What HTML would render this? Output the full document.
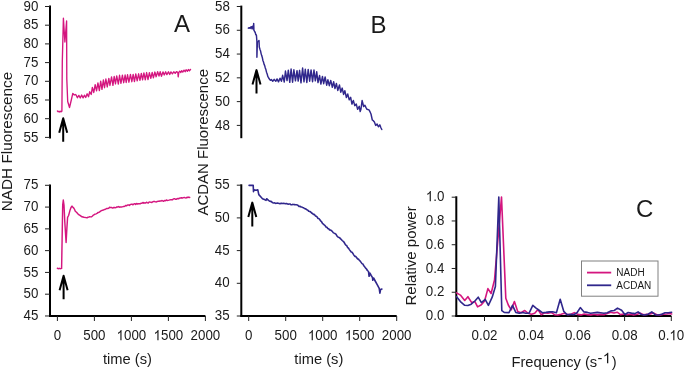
<!DOCTYPE html>
<html><head><meta charset="utf-8"><title>Figure</title>
<style>
html,body{margin:0;padding:0;background:#fff;}
body{width:685px;height:371px;overflow:hidden;}
svg{display:block;will-change:transform;}
text{font-family:"Liberation Sans",sans-serif;fill:#1a1a1a;}
</style></head>
<body>
<svg width="685" height="371" viewBox="0 0 685 371">
<rect x="0" y="0" width="685" height="371" fill="#fff"/>
<line x1="50" y1="5.6" x2="50" y2="138.4" stroke="#000" stroke-width="2"/>
<line x1="45" y1="6.5" x2="50" y2="6.5" stroke="#222" stroke-width="1"/>
<text transform="translate(23.47 10.6) scale(1 1.07)" font-size="13.33">90</text>
<line x1="45" y1="25.2" x2="50" y2="25.2" stroke="#222" stroke-width="1"/>
<text transform="translate(23.47 29.3) scale(1 1.07)" font-size="13.33">85</text>
<line x1="45" y1="43.9" x2="50" y2="43.9" stroke="#222" stroke-width="1"/>
<text transform="translate(23.47 48) scale(1 1.07)" font-size="13.33">80</text>
<line x1="45" y1="62.6" x2="50" y2="62.6" stroke="#222" stroke-width="1"/>
<text transform="translate(23.47 66.7) scale(1 1.07)" font-size="13.33">75</text>
<line x1="45" y1="81.3" x2="50" y2="81.3" stroke="#222" stroke-width="1"/>
<text transform="translate(23.47 85.4) scale(1 1.07)" font-size="13.33">70</text>
<line x1="45" y1="100" x2="50" y2="100" stroke="#222" stroke-width="1"/>
<text transform="translate(23.47 104.1) scale(1 1.07)" font-size="13.33">65</text>
<line x1="45" y1="118.7" x2="50" y2="118.7" stroke="#222" stroke-width="1"/>
<text transform="translate(23.47 122.8) scale(1 1.07)" font-size="13.33">60</text>
<line x1="45" y1="137.4" x2="50" y2="137.4" stroke="#222" stroke-width="1"/>
<text transform="translate(23.47 141.5) scale(1 1.07)" font-size="13.33">55</text>
<line x1="50" y1="184.4" x2="50" y2="316.5" stroke="#000" stroke-width="2"/>
<line x1="45" y1="185.3" x2="50" y2="185.3" stroke="#222" stroke-width="1"/>
<text transform="translate(23.47 189.4) scale(1 1.07)" font-size="13.33">75</text>
<line x1="45" y1="207.08" x2="50" y2="207.08" stroke="#222" stroke-width="1"/>
<text transform="translate(23.47 211.18) scale(1 1.07)" font-size="13.33">70</text>
<line x1="45" y1="228.86" x2="50" y2="228.86" stroke="#222" stroke-width="1"/>
<text transform="translate(23.47 232.96) scale(1 1.07)" font-size="13.33">65</text>
<line x1="45" y1="250.64" x2="50" y2="250.64" stroke="#222" stroke-width="1"/>
<text transform="translate(23.47 254.74) scale(1 1.07)" font-size="13.33">60</text>
<line x1="45" y1="272.42" x2="50" y2="272.42" stroke="#222" stroke-width="1"/>
<text transform="translate(23.47 276.52) scale(1 1.07)" font-size="13.33">55</text>
<line x1="45" y1="294.2" x2="50" y2="294.2" stroke="#222" stroke-width="1"/>
<text transform="translate(23.47 298.3) scale(1 1.07)" font-size="13.33">50</text>
<line x1="45" y1="315.98" x2="50" y2="315.98" stroke="#222" stroke-width="1"/>
<text transform="translate(23.47 320.08) scale(1 1.07)" font-size="13.33">45</text>
<line x1="49" y1="316" x2="205.4" y2="316" stroke="#000" stroke-width="2"/>
<line x1="57.4" y1="316" x2="57.4" y2="321" stroke="#222" stroke-width="1"/>
<text transform="translate(53.69 340.3) scale(1 1.07)" font-size="13.33">0</text>
<line x1="94.4" y1="316" x2="94.4" y2="321" stroke="#222" stroke-width="1"/>
<text transform="translate(83.28 340.3) scale(1 1.07)" font-size="13.33">500</text>
<line x1="131.4" y1="316" x2="131.4" y2="321" stroke="#222" stroke-width="1"/>
<text transform="translate(116.57 340.3) scale(1 1.07)" font-size="13.33"> 000</text>
<path fill="#1a1a1a" transform="translate(116.57 340.3) scale(0.01333 -0.01426)" d="M372.6 0L284.7 0L284.7 560Q252.9 529.8 201.2 499.5Q149.4 469.2 107.9 454.1L107.9 539.1Q181.6 573.7 236.8 623Q292 672.4 314.9 718.8L372.6 718.8Z"/>
<line x1="168.4" y1="316" x2="168.4" y2="321" stroke="#222" stroke-width="1"/>
<text transform="translate(153.57 340.3) scale(1 1.07)" font-size="13.33"> 500</text>
<path fill="#1a1a1a" transform="translate(153.57 340.3) scale(0.01333 -0.01426)" d="M372.6 0L284.7 0L284.7 560Q252.9 529.8 201.2 499.5Q149.4 469.2 107.9 454.1L107.9 539.1Q181.6 573.7 236.8 623Q292 672.4 314.9 718.8L372.6 718.8Z"/>
<line x1="205.4" y1="316" x2="205.4" y2="321" stroke="#222" stroke-width="1"/>
<text transform="translate(190.57 340.3) scale(1 1.07)" font-size="13.33">2000</text>
<line x1="241.3" y1="5.6" x2="241.3" y2="138.2" stroke="#000" stroke-width="2"/>
<line x1="236.8" y1="6.5" x2="241.3" y2="6.5" stroke="#222" stroke-width="1"/>
<text transform="translate(215.07 10.6) scale(1 1.07)" font-size="13.33">58</text>
<line x1="236.8" y1="30.28" x2="241.3" y2="30.28" stroke="#222" stroke-width="1"/>
<text transform="translate(215.07 34.38) scale(1 1.07)" font-size="13.33">56</text>
<line x1="236.8" y1="54.06" x2="241.3" y2="54.06" stroke="#222" stroke-width="1"/>
<text transform="translate(215.07 58.16) scale(1 1.07)" font-size="13.33">54</text>
<line x1="236.8" y1="77.84" x2="241.3" y2="77.84" stroke="#222" stroke-width="1"/>
<text transform="translate(215.07 81.94) scale(1 1.07)" font-size="13.33">52</text>
<line x1="236.8" y1="101.62" x2="241.3" y2="101.62" stroke="#222" stroke-width="1"/>
<text transform="translate(215.07 105.72) scale(1 1.07)" font-size="13.33">50</text>
<line x1="236.8" y1="125.4" x2="241.3" y2="125.4" stroke="#222" stroke-width="1"/>
<text transform="translate(215.07 129.5) scale(1 1.07)" font-size="13.33">48</text>
<line x1="241.3" y1="184.3" x2="241.3" y2="316.5" stroke="#000" stroke-width="2"/>
<line x1="236.8" y1="185.2" x2="241.3" y2="185.2" stroke="#222" stroke-width="1"/>
<text transform="translate(214.77 189.3) scale(1 1.07)" font-size="13.33">55</text>
<line x1="236.8" y1="217.9" x2="241.3" y2="217.9" stroke="#222" stroke-width="1"/>
<text transform="translate(214.77 222) scale(1 1.07)" font-size="13.33">50</text>
<line x1="236.8" y1="250.6" x2="241.3" y2="250.6" stroke="#222" stroke-width="1"/>
<text transform="translate(214.77 254.7) scale(1 1.07)" font-size="13.33">45</text>
<line x1="236.8" y1="283.3" x2="241.3" y2="283.3" stroke="#222" stroke-width="1"/>
<text transform="translate(214.77 287.4) scale(1 1.07)" font-size="13.33">40</text>
<line x1="236.8" y1="316" x2="241.3" y2="316" stroke="#222" stroke-width="1"/>
<text transform="translate(214.77 320.1) scale(1 1.07)" font-size="13.33">35</text>
<line x1="240.3" y1="316" x2="396.7" y2="316" stroke="#000" stroke-width="2"/>
<line x1="248.7" y1="316" x2="248.7" y2="321" stroke="#222" stroke-width="1"/>
<text transform="translate(244.99 340.3) scale(1 1.07)" font-size="13.33">0</text>
<line x1="285.7" y1="316" x2="285.7" y2="321" stroke="#222" stroke-width="1"/>
<text transform="translate(274.58 340.3) scale(1 1.07)" font-size="13.33">500</text>
<line x1="322.7" y1="316" x2="322.7" y2="321" stroke="#222" stroke-width="1"/>
<text transform="translate(307.87 340.3) scale(1 1.07)" font-size="13.33"> 000</text>
<path fill="#1a1a1a" transform="translate(307.87 340.3) scale(0.01333 -0.01426)" d="M372.6 0L284.7 0L284.7 560Q252.9 529.8 201.2 499.5Q149.4 469.2 107.9 454.1L107.9 539.1Q181.6 573.7 236.8 623Q292 672.4 314.9 718.8L372.6 718.8Z"/>
<line x1="359.7" y1="316" x2="359.7" y2="321" stroke="#222" stroke-width="1"/>
<text transform="translate(344.87 340.3) scale(1 1.07)" font-size="13.33"> 500</text>
<path fill="#1a1a1a" transform="translate(344.87 340.3) scale(0.01333 -0.01426)" d="M372.6 0L284.7 0L284.7 560Q252.9 529.8 201.2 499.5Q149.4 469.2 107.9 454.1L107.9 539.1Q181.6 573.7 236.8 623Q292 672.4 314.9 718.8L372.6 718.8Z"/>
<line x1="396.7" y1="316" x2="396.7" y2="321" stroke="#222" stroke-width="1"/>
<text transform="translate(381.87 340.3) scale(1 1.07)" font-size="13.33">2000</text>
<line x1="456.3" y1="196.3" x2="456.3" y2="316.5" stroke="#000" stroke-width="2"/>
<line x1="451.7" y1="197.2" x2="456.3" y2="197.2" stroke="#222" stroke-width="1"/>
<text transform="translate(425.87 201.3) scale(1 1.07)" font-size="13.33"> .0</text>
<path fill="#1a1a1a" transform="translate(425.87 201.3) scale(0.01333 -0.01426)" d="M372.6 0L284.7 0L284.7 560Q252.9 529.8 201.2 499.5Q149.4 469.2 107.9 454.1L107.9 539.1Q181.6 573.7 236.8 623Q292 672.4 314.9 718.8L372.6 718.8Z"/>
<line x1="451.7" y1="220.96" x2="456.3" y2="220.96" stroke="#222" stroke-width="1"/>
<text transform="translate(425.87 225.06) scale(1 1.07)" font-size="13.33">0.8</text>
<line x1="451.7" y1="244.72" x2="456.3" y2="244.72" stroke="#222" stroke-width="1"/>
<text transform="translate(425.87 248.82) scale(1 1.07)" font-size="13.33">0.6</text>
<line x1="451.7" y1="268.48" x2="456.3" y2="268.48" stroke="#222" stroke-width="1"/>
<text transform="translate(425.87 272.58) scale(1 1.07)" font-size="13.33">0.4</text>
<line x1="451.7" y1="292.24" x2="456.3" y2="292.24" stroke="#222" stroke-width="1"/>
<text transform="translate(425.87 296.34) scale(1 1.07)" font-size="13.33">0.2</text>
<line x1="451.7" y1="316" x2="456.3" y2="316" stroke="#222" stroke-width="1"/>
<text transform="translate(425.87 320.1) scale(1 1.07)" font-size="13.33">0.0</text>
<line x1="455.3" y1="316" x2="671.3" y2="316" stroke="#000" stroke-width="2"/>
<line x1="484.5" y1="316" x2="484.5" y2="321" stroke="#222" stroke-width="1"/>
<text transform="translate(471.53 340.3) scale(1 1.07)" font-size="13.33">0.02</text>
<line x1="531.2" y1="316" x2="531.2" y2="321" stroke="#222" stroke-width="1"/>
<text transform="translate(518.23 340.3) scale(1 1.07)" font-size="13.33">0.04</text>
<line x1="577.9" y1="316" x2="577.9" y2="321" stroke="#222" stroke-width="1"/>
<text transform="translate(564.93 340.3) scale(1 1.07)" font-size="13.33">0.06</text>
<line x1="624.6" y1="316" x2="624.6" y2="321" stroke="#222" stroke-width="1"/>
<text transform="translate(611.63 340.3) scale(1 1.07)" font-size="13.33">0.08</text>
<line x1="671.3" y1="316" x2="671.3" y2="321" stroke="#222" stroke-width="1"/>
<text transform="translate(658.33 340.3) scale(1 1.07)" font-size="13.33">0. 0</text>
<path fill="#1a1a1a" transform="translate(669.44 340.3) scale(0.01333 -0.01426)" d="M372.6 0L284.7 0L284.7 560Q252.9 529.8 201.2 499.5Q149.4 469.2 107.9 454.1L107.9 539.1Q181.6 573.7 236.8 623Q292 672.4 314.9 718.8L372.6 718.8Z"/>
<text x="127.5" y="364.1" text-anchor="middle" font-size="14.7">time (s)</text>
<text x="318.8" y="364.1" text-anchor="middle" font-size="14.7">time (s)</text>
<text x="511.49" y="367.1" font-size="14.7">Frequency (s</text>
<text x="597.55" y="363.2" font-size="14.7">-</text>
<path fill="#1a1a1a" transform="translate(602.81 363.2) scale(0.0147 -0.0147)" d="M372.6 0L284.7 0L284.7 560Q252.9 529.8 201.2 499.5Q149.4 469.2 107.9 454.1L107.9 539.1Q181.6 573.7 236.8 623Q292 672.4 314.9 718.8L372.6 718.8Z"/>
<text x="611.71" y="367.1" font-size="14.7">)</text>
<text transform="translate(11.9 141.5) rotate(-90) scale(1 1.015)" text-anchor="middle" font-size="15.3">NADH Fluorescence</text>
<text transform="translate(208 142.3) rotate(-90) scale(1 1.002)" text-anchor="middle" font-size="15">ACDAN Fluorescence</text>
<text transform="translate(415.8 255.9) rotate(-90) scale(1 1.02)" text-anchor="middle" font-size="15">Relative power</text>
<text x="173.9" y="31.8" font-size="24">A</text>
<text x="370.6" y="33.2" font-size="24">B</text>
<text x="636" y="217" font-size="24">C</text>
<rect x="581.5" y="261" width="76.5" height="35.2" fill="#fff" stroke="#808080" stroke-width="1"/>
<line x1="587" y1="272.6" x2="611.2" y2="272.6" stroke="#d4167f" stroke-width="1.8"/>
<line x1="587" y1="285.3" x2="611.2" y2="285.3" stroke="#30278c" stroke-width="1.8"/>
<text x="616.3" y="276.2" font-size="10">NADH</text>
<text x="616.3" y="288.7" font-size="10">ACDAN</text>
<path d="M63.2 141.7 L63.2 119.3 M59.2 132.7 L63.2 118.3 L67.2 132.7" fill="none" stroke="#000" stroke-width="2" stroke-linecap="butt" stroke-linejoin="round"/>
<path d="M63.6 299.3 L63.6 276.8 M59.6 290.2 L63.6 275.8 L67.6 290.2" fill="none" stroke="#000" stroke-width="2" stroke-linecap="butt" stroke-linejoin="round"/>
<path d="M256.5 93.6 L256.5 71.1 M252.5 84.5 L256.5 70.1 L260.5 84.5" fill="none" stroke="#000" stroke-width="2" stroke-linecap="butt" stroke-linejoin="round"/>
<path d="M252.3 226.4 L252.3 203.6 M248.3 217 L252.3 202.6 L256.3 217" fill="none" stroke="#000" stroke-width="2" stroke-linecap="butt" stroke-linejoin="round"/>
<path d="M57.4 111 L58.2 111.8 L59 111.2 L59.8 112 L60.6 111.3 L61.5 111.7 L61.9 111.2 L62.3 62 L63.4 18.2 L64.9 42 L66.6 21 L66.8 79 L67.7 101.5 L69.5 107.5 L71.3 100 L72.8 93.4 L74.3 95 L75.3 94.5 L76.16 95.1 L77.42 97.77 L78.84 95.37 L80.26 97.99 L81.66 95.04 L83.09 97.92 L84.38 95.18 L85.71 97.48 L87.15 93.81 L88.51 96.73 L89.72 91.74 L91.24 94.48 L92.35 87.47 L93.8 92.45 L95.17 84.69 L96.55 90.88 L97.93 82.93 L99.38 90.5 L100.7 81.17 L101.97 89.44 L103.4 79.88 L104.52 87.7 L105.89 78.99 L107.26 86.96 L108.83 78.37 L109.94 85.47 L111.54 76.84 L112.93 85.33 L114.17 76.48 L115.47 83.85 L116.71 75.82 L118.34 84.02 L119.55 75.25 L120.94 83.35 L122.4 75.19 L123.69 82.75 L125.12 75.01 L126.19 82.47 L127.55 74.77 L128.91 82.23 L130.45 74.32 L131.83 81.72 L133.16 74.33 L134.45 81.59 L135.78 73.81 L137.2 80.81 L138.61 73.8 L139.96 80.3 L141.33 73.45 L142.58 79.85 L143.9 72.87 L145.29 79.83 L146.61 72.54 L148 79.52 L149.38 72.6 L150.83 78.39 L152.17 72.36 L153.39 77.85 L154.88 72.04 L156.12 76.72 L157.63 71.77 L158.99 75.99 L160.19 71.71 L161.48 76.21 L162.97 71.88 L164.23 74.95 L165.66 71.76 L166.85 74.66 L168.47 71.83 L169.72 74.5 L170.95 71.91 L172.41 73.91 L173.79 71.74 L175.22 73.39 L176.43 71.58 L177.8 72.3 L178.2 76.8 L178.8 72.5 L179.7 71.15 L180.83 72.48 L181.65 70.68 L182.76 72.13 L184.01 70.16 L185.18 71.7 L186.09 69.79 L187.44 71.18 L188.4 69.48 L189.46 70.86 L190.56 69.35" fill="none" stroke="#d4167f" stroke-width="1.35" stroke-linejoin="round" stroke-linecap="round" />
<path d="M57.4 268.3 L58.5 268.7 L59.5 268.3 L60.5 268.7 L61.6 268.4 L62.1 240 L62.7 205 L63.3 200 L64 205 L64.8 222 L66.1 242.5 L66.9 228 L67.6 217.3 L68.6 215.5 L69.1 213.6 L70.1 209.9 L71 207.5 L72 206.1 L73 207.4 L73.8 208.1 L74.6 209.5 L75.3 211.3 L76.5 212.3 L78.3 214.3 L80 215.3 L82 216.8 L84 217.3 L86 217.6 L87 217.8 L88 217.26 L88.9 217.14 L89.8 216.65 L90.7 216.85 L91.6 216.76 L92.5 215.94 L93.4 215.02 L94.3 214.54 L95.2 214.17 L96.1 213.83 L97 213.44 L97.9 212.46 L98.8 212.47 L99.7 211.82 L100.6 211.15 L101.5 210.62 L102.4 210.3 L103.3 210.12 L104.2 209.51 L105.1 209.5 L106 208.94 L106.9 208.4 L107.8 208.42 L108.7 208.29 L109.6 207.3 L110.5 207.57 L111.4 207.51 L112.3 207.94 L113.2 207.94 L114.1 207.26 L115 207.78 L115.9 207.6 L116.8 206.95 L117.7 207.07 L118.6 206.57 L119.5 207.21 L120.4 206.93 L121.3 207.06 L122.2 206.83 L123.1 206.58 L124 206.52 L124.9 206.14 L125.8 205.45 L126.7 205.8 L127.6 204.97 L128.5 204.93 L129.4 205.44 L130.3 204.45 L131.2 204.32 L132.1 204.14 L133 204.86 L133.9 203.94 L134.8 203.62 L135.7 204.38 L136.6 203.44 L137.5 204.09 L138.4 203.76 L139.3 203.79 L140.2 203.78 L141.1 203.22 L142 203.36 L142.9 202.44 L143.8 203.16 L144.7 202.8 L145.6 202.94 L146.5 202.19 L147.4 202.81 L148.3 202.93 L149.2 201.89 L150.1 202.1 L151 202.27 L151.9 202.47 L152.8 201.73 L153.7 201.57 L154.6 201.55 L155.5 201.87 L156.4 201.92 L157.3 201.44 L158.2 201.32 L159.1 201.25 L160 201.07 L160.9 201.03 L161.8 200.54 L162.7 200.88 L163.6 201.28 L164.5 200.54 L165.4 200.79 L166.3 200.02 L167.2 200.48 L168.1 200.4 L169 200.17 L169.9 199.85 L170.8 199.67 L171.7 199.7 L172.6 199.83 L173.5 198.87 L174.4 198.66 L175.3 199.23 L176.2 199.27 L177.1 198.71 L178 198.51 L178.9 198.69 L179.8 197.98 L180.7 197.95 L181.6 197.76 L182.5 198.06 L183.4 197.65 L184.3 197.45 L185.2 197.84 L186.1 198.02 L187 197.18 L187.9 197.52 L188.8 197.09 L189.7 197.46" fill="none" stroke="#d4167f" stroke-width="1.45" stroke-linejoin="round" stroke-linecap="round" />
<path d="M248.3 28.1 L253.6 25.5 L253.6 29.3 Z" fill="#30278c" stroke="#30278c" stroke-width="0.8" stroke-linejoin="round"/>
<path d="M248.3 28.1 L250.5 27.4 L253.5 27 L253.7 23.4 L253.9 30.2 L254.6 31.5 L255.3 32.6 L255.8 34.8 L256.4 35 L256.9 41.5 L256.9 57.2 L257.4 42 L258.2 41.5 L259 40.6 L259.3 47 L260 49.4 L260.5 50.7 L261.1 53.6 L261.7 55.6 L262.3 57.4 L262.9 60.5 L263.5 62 L264.1 64.4 L264.7 65.6 L265.3 68 L265.9 69.6 L266.5 72.2 L267.2 74 L267.8 76.4 L268.7 78 L269.6 79.4 L270.5 80.3 L271.32 79.43 L272.78 81.24 L274.18 79.37 L275.79 81.3 L277.05 78.94 L278.49 81.85 L280 78.17 L281.44 81.26 L282.64 75.3 L284.27 82.01 L285.46 71 L287.03 80.64 L288.31 70.14 L289.77 82.35 L291.09 68.96 L292.58 82.2 L293.89 69.8 L295.45 80.85 L297.01 70.62 L298.17 81.06 L299.58 70.35 L300.99 82.86 L302.61 67.96 L304 81.86 L305.29 69.21 L306.83 82.54 L308.19 69.38 L309.66 81.19 L311.06 69.88 L312.55 81.7 L313.98 70.07 L315.33 80.81 L316.72 71.8 L318 82.55 L319.59 75.49 L320.88 84.09 L322.45 76.38 L323.68 83.68 L325.12 76.98 L326.67 85.23 L327.88 79.79 L329.3 85.7 L330.74 80.39 L332.32 87.25 L333.69 81.77 L334.98 88.53 L336.4 83.47 L337.76 90.45 L339.45 84.93 L340.76 92.22 L342.21 88.09 L343.56 94.47 L344.83 90.69 L346.39 97.5 L347.72 94.02 L349.23 99.87 L350.66 97.28 L351.95 104.13 L353.34 100.4 L354.76 105.67 L356.25 104.01 L357.61 109.38 L359.26 106.28 L360.2 111.5 L361 109 L362.1 100.5 L363 104 L363.6 106.6 L364.9 105.2 L366 107.6 L367 109.3 L369 109.9 L370.2 112.2 L371 114 L372.3 120 L373.3 120.7 L374.4 122 L375.7 125.4 L377.1 124.1 L378.4 126.8 L379.8 124.8 L380.8 127.5 L381.8 129.5" fill="none" stroke="#30278c" stroke-width="1.45" stroke-linejoin="round" stroke-linecap="round" />
<path d="M249.1 185.4 L251 185.2 L253.2 185.4 L253.5 191.6 L254.1 189.9 L256 190.3 L257.8 189.9 L258.8 194.6 L260.5 196.5 L262.5 198.7 L264.5 199.6 L266 200.4 L266.6 198.7 L268.5 200.4 L269.3 200.95 L270.2 201.36 L271.1 201.34 L272 202.18 L272.9 202.68 L273.8 202.99 L274.7 202.84 L275.6 203.35 L276.5 203.26 L277.4 203.07 L278.3 203.19 L279.2 203.41 L280.1 203.67 L281 203.33 L281.9 203.36 L282.8 203.46 L283.7 203.42 L284.6 203.43 L285.5 203.78 L286.4 203.56 L287.3 203.85 L288.2 204.27 L289.1 204.04 L290 203.94 L290.9 204.79 L291.8 204.72 L292.7 204.4 L293.6 204.43 L294.5 204.61 L295.4 204.78 L296.3 204.78 L297.2 204.94 L298.1 205.52 L299 206.47 L299.9 206.2 L300.8 206.89 L301.7 207 L302.6 207.38 L303.5 207.73 L304.4 208.51 L305.3 208.81 L306.2 209.22 L307.1 209.84 L308 210.44 L308.9 211.31 L309.8 211.44 L310.7 211.98 L311.6 212.98 L312.5 213.51 L313.4 214.38 L314.3 214.4 L315.2 215.55 L316.1 216.33 L317 216.75 L317.9 218.49 L318.8 218.53 L319.7 219.46 L320.6 220.92 L321.5 221.69 L322.4 223.24 L323.3 224.04 L324.2 224.9 L325.1 225.57 L326 226.95 L326.9 227.19 L327.8 228.4 L328.7 228.78 L329.6 229.94 L330.5 230.01 L331.4 230.66 L332.3 231.37 L333.2 232.62 L334.1 233.13 L335 233.54 L335.9 234.18 L336.8 235.66 L337.7 236.84 L338.6 237.35 L339.5 237.66 L340.4 238.57 L341.3 239.52 L342.2 240.49 L343.1 241.25 L344 242.16 L344.9 243.76 L345.8 245.15 L346.7 245.59 L347.6 247.5 L348.5 248.14 L349.4 249.61 L350.3 250.86 L351.2 252.02 L352.1 252.26 L353 253.67 L353.9 255.11 L354.8 256.35 L355.7 256.39 L356.6 257.49 L357.5 258.95 L358.4 259.11 L359.3 260.29 L360.2 261.13 L361.1 262.38 L362 263.61 L362.9 264.01 L363.8 265.73 L364.7 266.87 L365.6 268.13 L366.5 268.99 L367.4 270.52 L368.5 271.5 L369.1 276.3 L369.8 273 L371.2 275.5 L372.5 277.6 L372.8 280.3 L373.6 278 L375.2 281 L377.2 284.6 L379.2 288.4 L379.9 293.1 L380.6 289.5 L381.9 289" fill="none" stroke="#30278c" stroke-width="1.6" stroke-linejoin="round" stroke-linecap="round" />
<path d="M456.6 292.9 L460.4 295.1 L464.7 300.5 L467.9 296.7 L471.7 302.6 L474.9 301.6 L477.6 306.9 L481.4 304.8 L484.6 301 L487.9 288.6 L491.1 293.5 L494.5 280 L501.5 197 L505.8 298.3 L508.3 305 L511.2 309.9 L514.4 301.6 L517.7 311.4 L521 312.8 L524.8 310.5 L528.1 313.3 L531.4 314.2 L534.7 313.3 L538 309.5 L541.3 314.7 L544.6 312.8 L547.9 313.3 L551.2 312.4 L554.5 314.7 L557.8 315 L561.1 314.2 L564.4 313.3 L567.7 314.6 L571 314.2 L574.3 312.6 L577.6 314.4 L580.9 314.9 L584.2 314 L587.5 314.6 L590.8 314.9 L594.1 314.2 L597.4 314.9 L600.7 314.4 L604 314.8 L607.3 313.6 L610.6 312.3 L613.9 313 L617.2 312.2 L620.5 314.6 L623.8 314 L627.1 314.7 L630.4 314.2 L633.7 314.9 L637 314.2 L640.3 313.2 L643.6 314.8 L646.9 314.4 L650.2 314 L653.5 313 L656.8 314.7 L660.1 314.9 L663.4 314.2 L666.7 314 L670 313.5 L671.6 314" fill="none" stroke="#d4167f" stroke-width="1.6" stroke-linejoin="round" stroke-linecap="round" />
<path d="M456.6 296.7 L460.4 301.6 L464.7 305.3 L467.9 305.5 L471.2 304.2 L474.9 301 L478.2 297.2 L481.4 302.6 L485.2 299.4 L488.4 305.3 L492.2 297.2 L495.4 286.5 L498.8 197 L501.8 310.7 L504.2 312.4 L509 312.6 L512.5 305.3 L515.8 312.4 L519.2 313.3 L522.5 312.4 L525.8 313.3 L529.1 313.1 L532.8 305.3 L536.1 308.1 L539.4 310.5 L542.7 312.8 L546 312.4 L549.3 311.9 L552.6 311.7 L556.4 312.8 L560.2 299.2 L563.8 311.4 L567.1 314.7 L570.4 314.2 L573.7 314.7 L577 312.8 L580.3 307.6 L584 311.9 L587.4 312.4 L590.7 313.3 L594 312.8 L597.3 312.4 L600.6 312.8 L603.9 313.3 L607.2 312.8 L610.9 310.9 L614.2 310.5 L617.5 308.1 L621.6 310.3 L624.9 314.5 L628.2 312.5 L631.5 313.1 L634.8 313.6 L638.1 311.9 L641.4 314.5 L644.7 315 L648 314.3 L651.8 311.9 L655.1 314.7 L658.4 315 L661.7 314.3 L665 312.8 L668.3 312.8 L671.6 312.2" fill="none" stroke="#30278c" stroke-width="1.6" stroke-linejoin="round" stroke-linecap="round" />
</svg>
</body></html>
